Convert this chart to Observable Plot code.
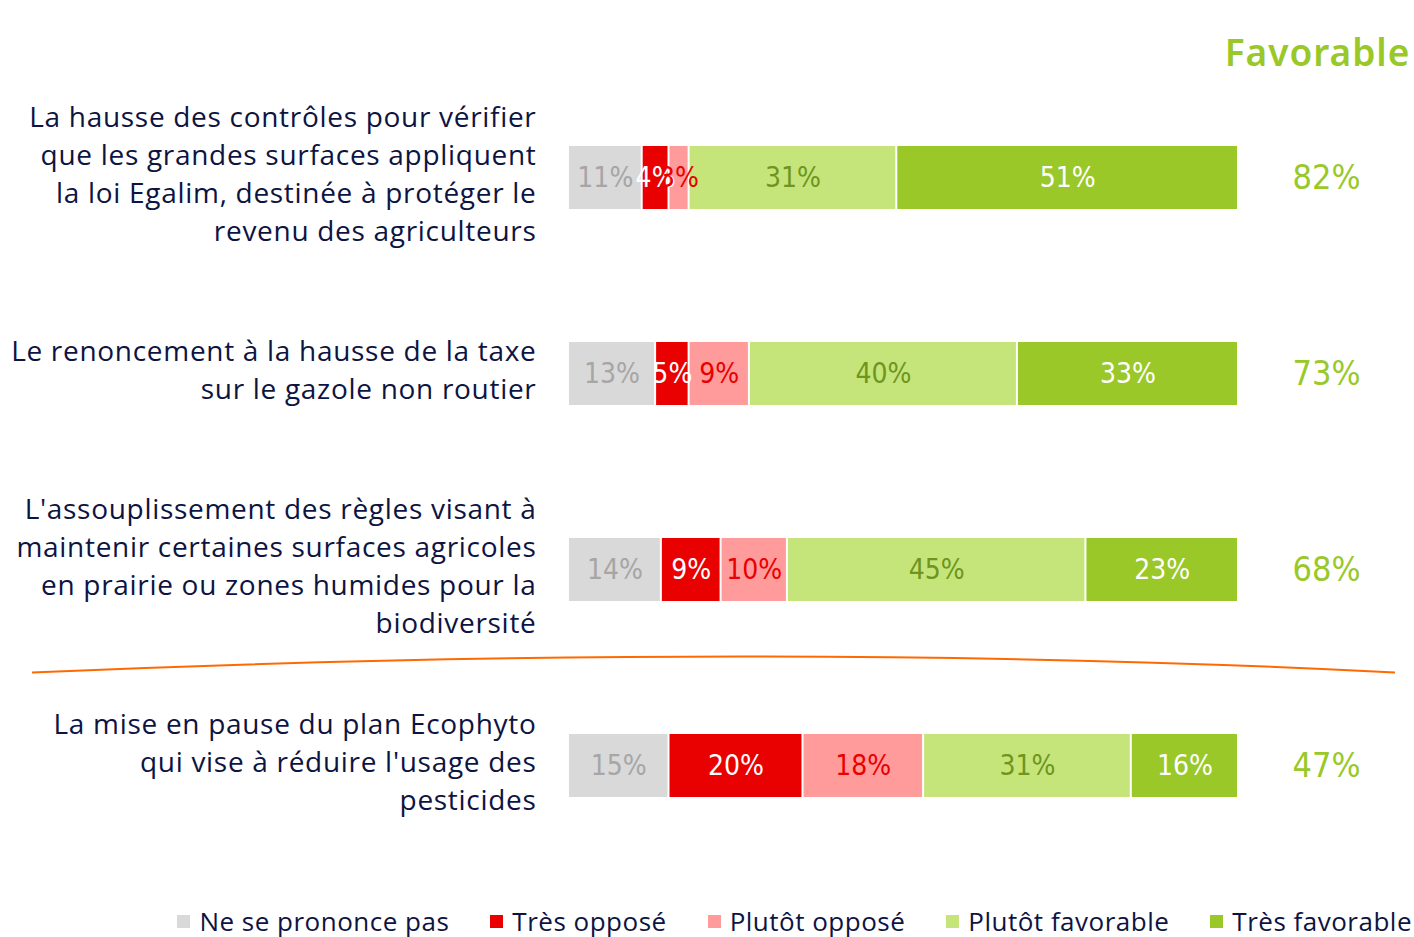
<!DOCTYPE html>
<html>
<head>
<meta charset="utf-8">
<script src="https://cdn.jsdelivr.net/npm/d3@7"></script>
<script src="https://cdn.jsdelivr.net/npm/@observablehq/plot@0.6"></script>
<style>
  html, body { margin: 0; padding: 0; background: #fff; overflow: hidden; }
  #chart svg { display: block; }
  #chart g[aria-description="rowlabels"] text { letter-spacing: 0.7px; }
  #chart g[aria-description="header"] text { letter-spacing: 1px; }
  #legend { height: 42px; box-sizing: border-box; padding-top: 10px; display: flex; justify-content: flex-end; align-items: center; gap: 41px; padding-right: 2px;
    font-family: "Open Sans", sans-serif; font-size: 26px; letter-spacing: 0.5px; color: #0d1442; }
  #legend .item { display: flex; align-items: center; gap: 9px; }
  #legend .sw { width: 13px; height: 13px; display: inline-block; }
</style>
</head>
<body>
<div id="chart"></div>
<div id="legend"></div>
<script>
// ---- data ----
const rows = [
  "La hausse des contrôles pour vérifier\nque les grandes surfaces appliquent\nla loi Egalim, destinée à protéger le\nrevenu des agriculteurs",
  "Le renoncement à la hausse de la taxe\nsur le gazole non routier",
  "L'assouplissement des règles visant à\nmaintenir certaines surfaces agricoles\nen prairie ou zones humides pour la\nbiodiversité",
  "La mise en pause du plan Ecophyto\nqui vise à réduire l'usage des\npesticides"
];
const categories = ["Ne se prononce pas", "Très opposé", "Plutôt opposé", "Plutôt favorable", "Très favorable"];
const nspp = [11, 13, 14, 15];
const tresOppose = [4, 5, 9, 20];
const plutotOppose = [3, 9, 10, 18];
const plutotFavorable = [31, 40, 45, 31];
const tresFavorable = [51, 33, 23, 16];
const seriesValues = [nspp, tresOppose, plutotOppose, plutotFavorable, tresFavorable];
const headerLabel = "Favorable";

const barColors = ["#d9d9d9", "#e90000", "#ff9b9b", "#c5e57b", "#99c828"];
const textColors = ["#a6a6a6", "#ffffff", "#e90000", "#6f951d", "#ffffff"];
const totalColor = "#99c828";
const labelColor = "#0d1442";

// ---- build table ----
const data = [];
rows.forEach((r, i) => categories.forEach((c, j) => data.push({row: r, cat: c, value: seriesValues[j][i], ci: j})));
const totals = rows.map((r, i) => ({row: r, total: plutotFavorable[i] + tresFavorable[i]}));

const numFont = '"Liberation Sans Narrow", "DejaVu Sans Condensed", "Roboto", sans-serif';

const separator = (index, scales, values, dims) => {
  const y3 = scales.y(rows[2]) + scales.y.bandwidth();
  const y4 = scales.y(rows[3]);
  const yb = (y3 + y4) / 2 + 5;
  const x0 = 32, x1 = dims.width - 19;
  const path = d3.path();
  path.moveTo(x0, yb);
  path.quadraticCurveTo((x0 + x1) / 2 + 60, yb - 32, x1, yb);
  const g = d3.create("svg:path")
    .attr("d", path.toString())
    .attr("fill", "none")
    .attr("stroke", "#ff6a00")
    .attr("stroke-width", 2);
  return g.node();
};

const chart = Plot.plot({
  width: 1414,
  height: 895,
  marginLeft: 568,
  marginRight: 176,
  marginTop: 79,
  marginBottom: 31,
  x: {domain: [0, 1], axis: null},
  y: {domain: rows, axis: null, paddingInner: 0.68, paddingOuter: 0.34},
  color: {type: "identity"},
  style: {fontFamily: '"Open Sans", sans-serif', background: "#fff"},
  marks: [
    Plot.barX(data, Plot.stackX({
      x: "value", y: "row", z: "cat", order: categories, offset: "normalize",
      fill: d => barColors[d.ci], insetLeft: 1, insetRight: 1
    })),
    Plot.text(data, Plot.stackX({
      x: "value", y: "row", z: "cat", order: categories, offset: "normalize",
      text: d => d.value + "%", fill: d => textColors[d.ci],
      fontSize: 28, fontFamily: numFont
    })),
    Plot.text(rows, {
      y: d => d, text: d => d, frameAnchor: "left", textAnchor: "end", dx: -32, dy: -6,
      fontSize: 28, lineHeight: 1.36, fill: labelColor, ariaDescription: "rowlabels"
    }),
    Plot.text(totals, {
      y: "row", text: d => d.total + "%", frameAnchor: "right", textAnchor: "middle", dx: 88,
      fill: totalColor, fontSize: 34, fontFamily: numFont
    }),
    Plot.text([headerLabel], {
      text: d => d, frameAnchor: "top-right", textAnchor: "end", dx: 172, dy: -40,
      fill: totalColor, fontSize: 37, fontWeight: 600, ariaDescription: "header",
      fontFamily: '"Noto Sans", sans-serif'
    }),
    separator
  ]
});
document.getElementById("chart").append(chart);

const legend = document.getElementById("legend");
categories.forEach((c, j) => {
  const it = document.createElement("div");
  it.className = "item";
  it.innerHTML = `<span class="sw" style="background:${barColors[j]}"></span><span>${c}</span>`;
  legend.append(it);
});
</script>
</body>
</html>
